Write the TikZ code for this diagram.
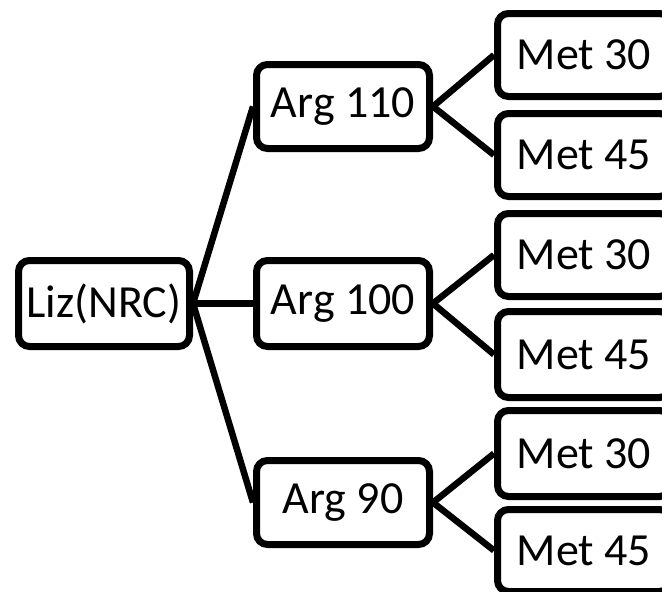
\documentclass[tikz,border=0pt]{standalone}
\usepackage{fontspec}
\setmainfont{Carlito}
\usetikzlibrary{backgrounds}
\begin{document}
\begin{tikzpicture}[x=1pt,y=-1pt,
  box/.style={draw=black, line width=7pt, rounded corners=11pt, fill=white,
    minimum width=173pt, minimum height=85pt, inner sep=0pt,
    font=\fontsize{46}{55}\selectfont},
  link/.style={draw=black, line width=6.5pt}]
\useasboundingbox (0,0) rectangle (662,592);
\clip (0,0) rectangle (662,592);

% root
\node[box, minimum width=171pt, minimum height=86pt] (liz) at (104,303.5) {Liz(NRC)};

% second level
\node[box, minimum height=84pt] (a110) at (343,106.5) {Arg 110};
\node[box, minimum height=86pt] (a100) at (343,303.5) {Arg 100};
\node[box, minimum height=84pt] (a90)  at (343,502.5) {Arg 90};

% third level
\node[box, minimum height=83pt] (m1) at (584,55)  {Met 30};
\node[box, minimum height=83pt] (m2) at (584,155) {Met 45};
\node[box, minimum height=83pt] (m3) at (584,255) {Met 30};
\node[box, minimum height=86pt] (m4) at (584,354.5) {Met 45};
\node[box, minimum height=86pt] (m5) at (584,453.5) {Met 30};
\node[box, minimum height=82pt] (m6) at (584,550.5) {Met 45};

% connectors
\begin{scope}[on background layer]
  \draw[link] (liz.east) -- (a110.west);
  \draw[link] (liz.east) -- (a100.west);
  \draw[link] (liz.east) -- (a90.west);
  \draw[link] (a110.east) -- (m1.west);
  \draw[link] (a110.east) -- (m2.west);
  \draw[link] (a100.east) -- (m3.west);
  \draw[link] (a100.east) -- (m4.west);
  \draw[link] (a90.east) -- (m5.west);
  \draw[link] (a90.east) -- (m6.west);
\end{scope}
\end{tikzpicture}
\end{document}
